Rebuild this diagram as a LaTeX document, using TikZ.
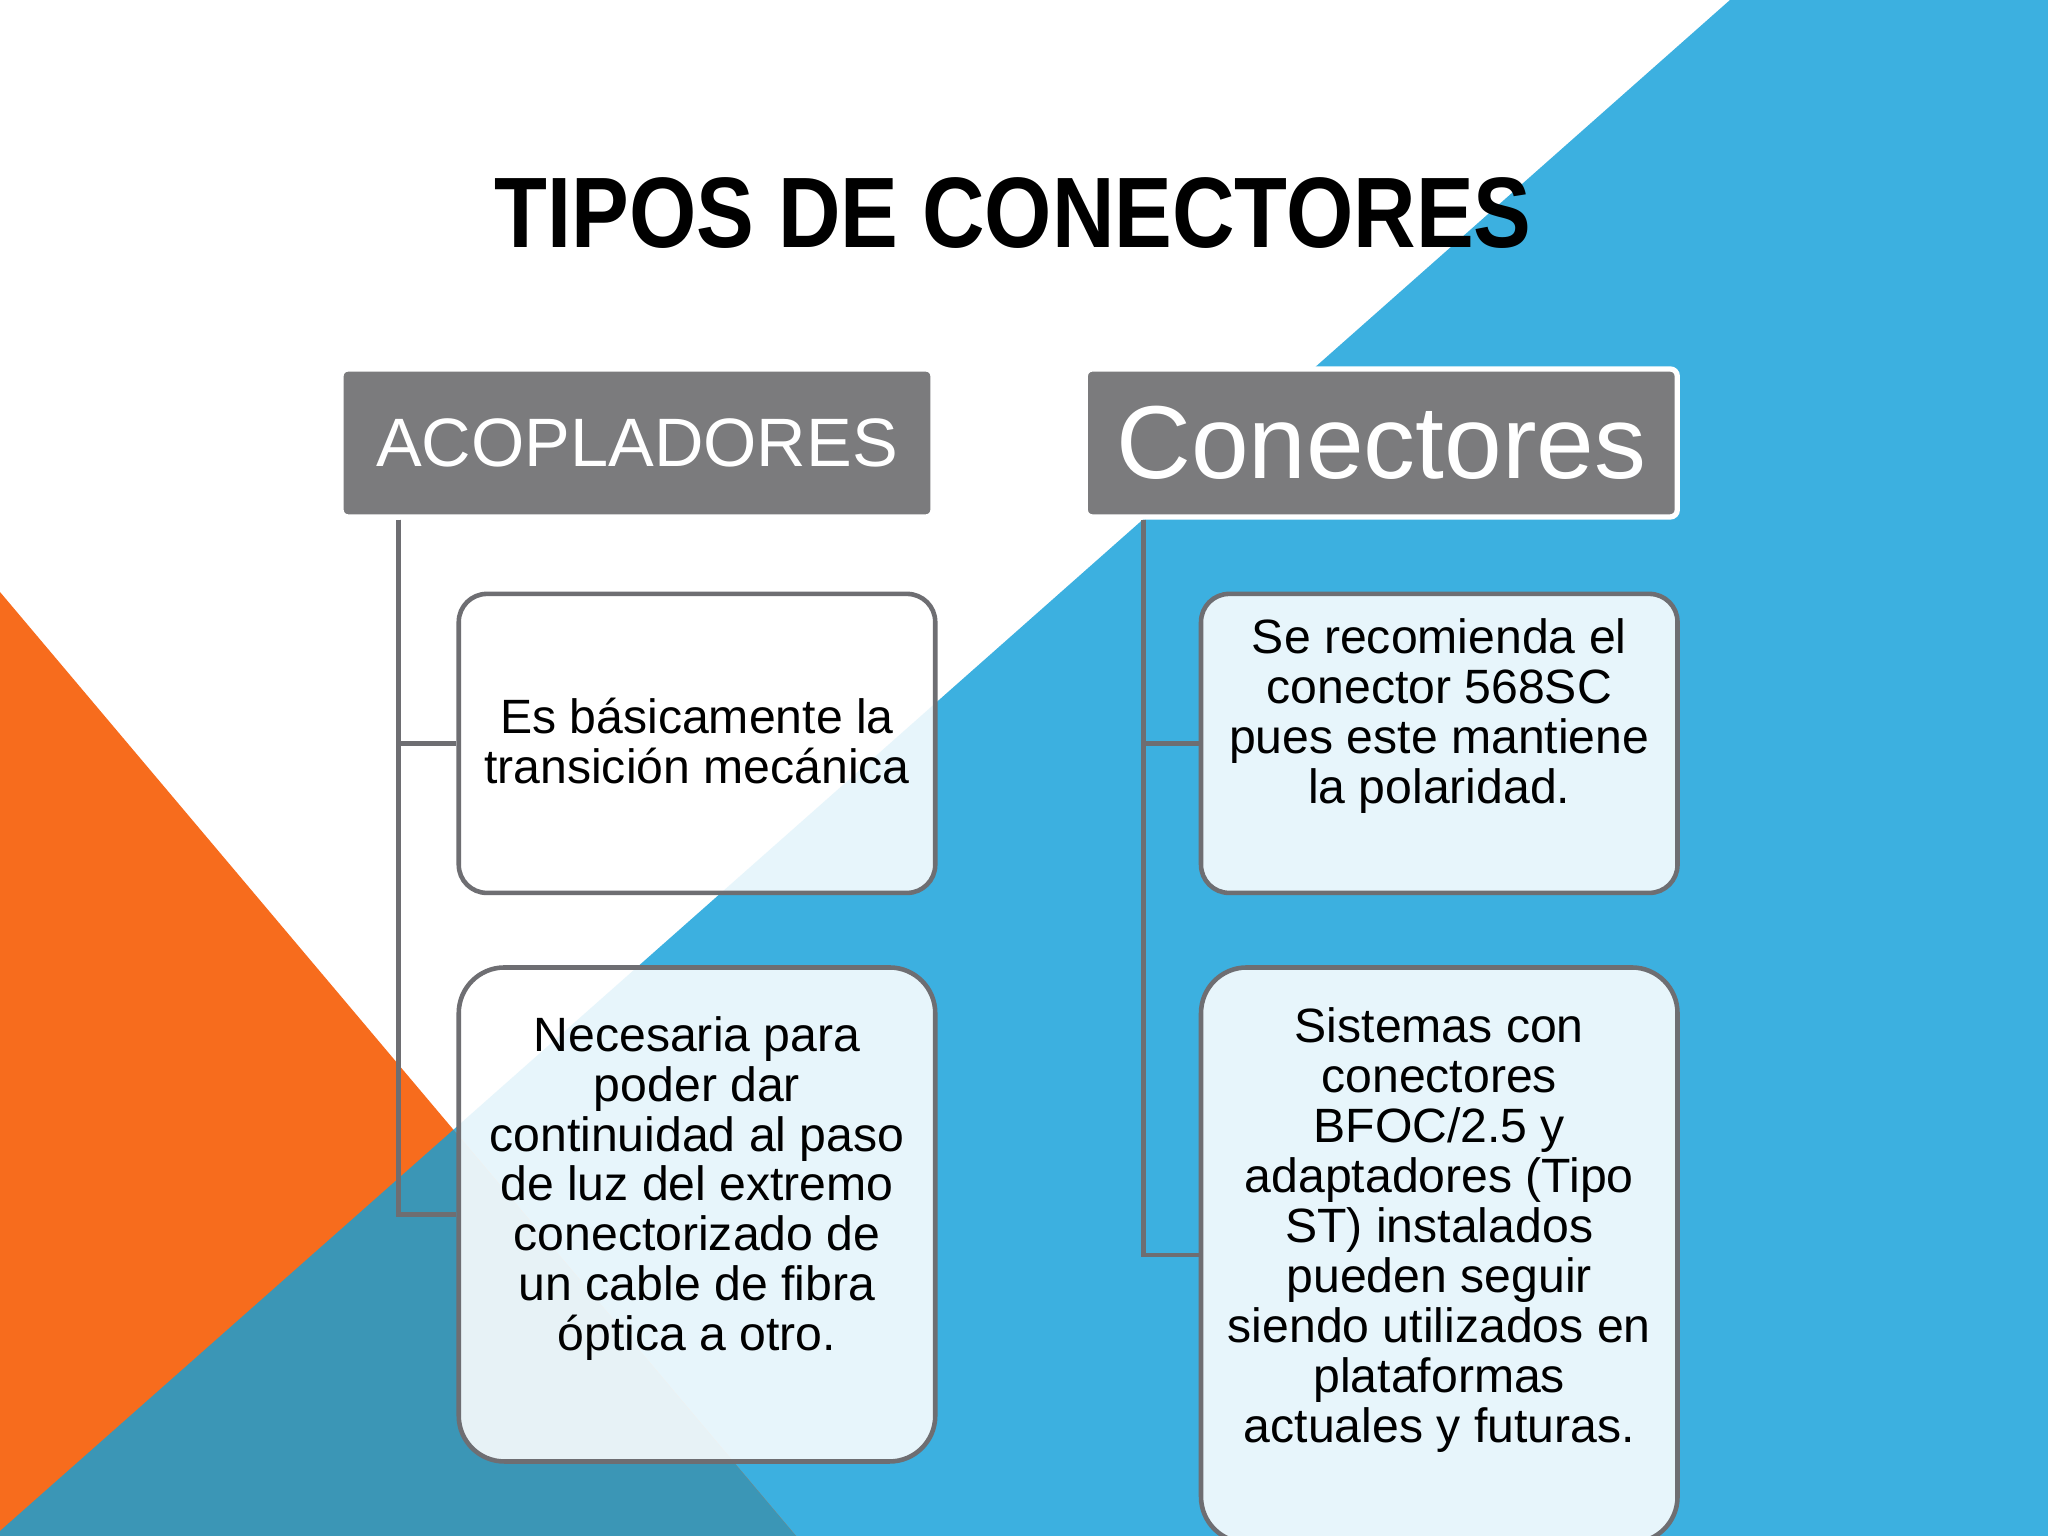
\documentclass[tikz,border=0pt]{standalone}
\usepackage{fontspec}
\setmainfont{Liberation Sans}
\usetikzlibrary{positioning}

\definecolor{slidegray}{RGB}{123,123,125}
\definecolor{linegray}{RGB}{110,110,114}
\definecolor{skyblue}{RGB}{60,176,224}
\definecolor{tealblue}{RGB}{59,150,182}
\definecolor{orangebg}{RGB}{247,108,29}

\tikzstyle{hbox}=[rectangle, rounded corners=2pt, draw=white, line width=1.5pt, fill=slidegray
, text=white, minimum width=5.92cm, minimum height=1.48cm, inner sep=0pt]
\tikzstyle{tbox}=[rectangle, rounded corners=8pt, draw=linegray, line width=1.3pt, fill=white
, fill opacity=0.88, minimum width=4.765cm, inner sep=0pt]
\tikzstyle{ttext}=[align=center, inner sep=0pt, font=\fontsize{13.7}{14.2}\selectfont]
\tikzstyle{bline}=[line width=1.4pt, linegray]

\begin{document}
\begin{tikzpicture}[node distance=0mm]
    \useasboundingbox (0,0) rectangle (20.48,15.36);

% background
    \fill[white] (0,0) rectangle (20.48,15.36);
    \fill[skyblue] (17.30,15.36) -- (20.48,15.36) -- (20.48,0) -- (0,0) -- (0,0.05) -- cycle;
    \fill[orangebg] (0,9.44) -- (7.96,0) -- (0,0) -- cycle;
    \fill[tealblue] (4.534,4.062) -- (7.96,0) -- (0,0) -- (0,0.05) -- cycle;

    \node (title) at (10.13,12.88) [anchor=base]
	{\scalebox{0.864}[1]{\fontsize{28.5}{30}\selectfont\bfseries TIPOS DE CONECTORES}};

% headers
    \node (acop) at (6.37,10.93) [hbox, font=\fontsize{19.5}{22}\selectfont] {ACOPLADORES};
    \node (con) [hbox, right=14.7mm of acop, font=\fontsize{29.5}{32}\selectfont] {Conectores};

% boxes
    \node (trans) [tbox, minimum height=2.99cm, below=7.2mm of acop, xshift=6mm] {};
    \node (nec) [tbox, minimum height=4.94cm, rounded corners=13pt, below=7.0mm of trans] {};
    \node (rec) [tbox, minimum height=2.99cm, below=7.2mm of con, xshift=5.8mm] {};
    \node (sis) [tbox, minimum height=5.75cm, rounded corners=13pt, below=7.0mm of rec] {};

    \node (trans-t) [ttext] at ([yshift=0.2mm]trans.center)
	{Es básicamente la\\transición mecánica};
    \node (nec-t) [ttext] at ([yshift=2.6mm]nec.center)
	{Necesaria para\\poder dar\\continuidad al paso\\de luz del extremo\\conectorizado de\\un cable de fibra\\óptica a otro.};
    \node (rec-t) [ttext] at ([yshift=2.7mm]rec.center)
	{Se recomienda el\\conector 568SC\\pues este mantiene\\la polaridad.};
    \node (sis-t) [ttext] at ([yshift=2.5mm]sis.center)
	{Sistemas con\\conectores\\BFOC/2.5 y\\adaptadores (Tipo\\ST) instalados\\pueden seguir\\siendo utilizados en\\plataformas\\actuales y futuras.};

% lines
   \draw[bline] ([xshift=6mm]acop.south west) |- (trans.west);
   \draw[bline] ([xshift=6mm]acop.south west) |- (nec.west);
   \draw[bline] ([xshift=6.1mm]con.south west) |- (rec.west);
   \draw[bline] ([xshift=6.1mm]con.south west) |- (sis.west);
\end{tikzpicture}
\end{document}
